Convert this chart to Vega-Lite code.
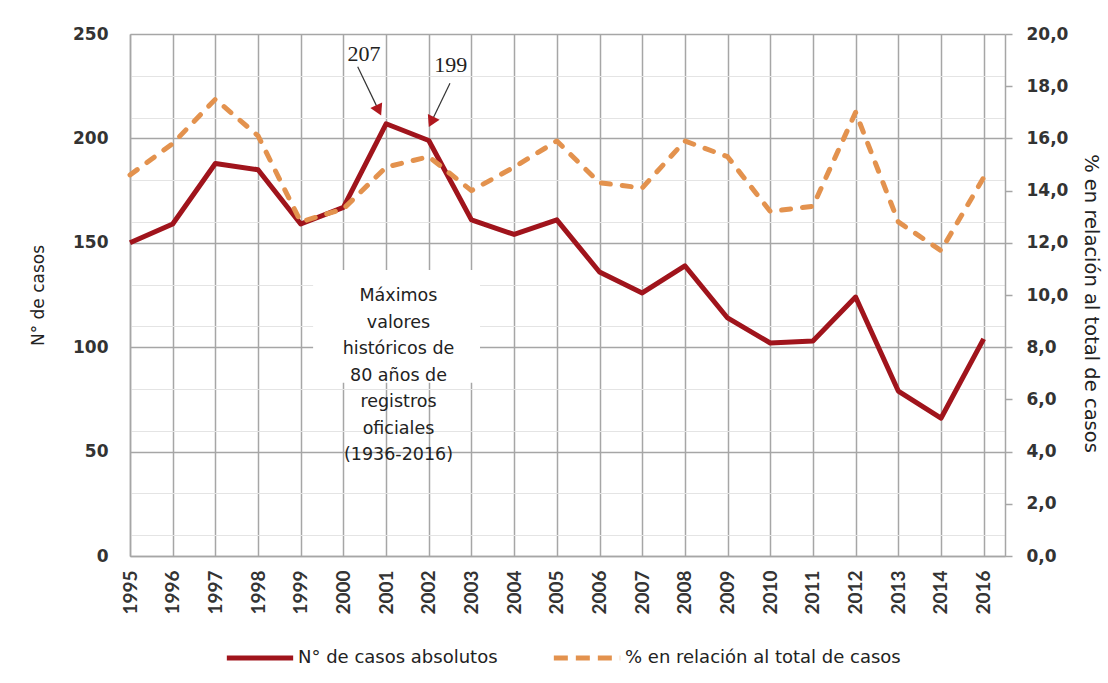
{
  "$schema": "https://vega.github.io/schema/vega-lite/v6.json",
  "width": 875,
  "height": 522,
  "autosize": {"type": "none"},
  "padding": {"left": 130, "top": 34, "right": 103, "bottom": 127},
  "background": "white",
  "config": {
    "view": {"stroke": null},
    "axis": {"labelColor": "#333333", "titleColor": "#222222"}
  },
  "datasets": {
    "serie": [
      {"año": "1995", "casos": 150, "pct": 14.6},
      {"año": "1996", "casos": 159, "pct": 15.8},
      {"año": "1997", "casos": 188, "pct": 17.5},
      {"año": "1998", "casos": 185, "pct": 16.1},
      {"año": "1999", "casos": 159, "pct": 12.8},
      {"año": "2000", "casos": 167, "pct": 13.3},
      {"año": "2001", "casos": 207, "pct": 14.9},
      {"año": "2002", "casos": 199, "pct": 15.3},
      {"año": "2003", "casos": 161, "pct": 14.0},
      {"año": "2004", "casos": 154, "pct": 14.9},
      {"año": "2005", "casos": 161, "pct": 15.9},
      {"año": "2006", "casos": 136, "pct": 14.3},
      {"año": "2007", "casos": 126, "pct": 14.1},
      {"año": "2008", "casos": 139, "pct": 15.9},
      {"año": "2009", "casos": 114, "pct": 15.3},
      {"año": "2010", "casos": 102, "pct": 13.2},
      {"año": "2011", "casos": 103, "pct": 13.4},
      {"año": "2012", "casos": 124, "pct": 17.0},
      {"año": "2013", "casos": 79, "pct": 12.8},
      {"año": "2014", "casos": 66, "pct": 11.7},
      {"año": "2016", "casos": 104, "pct": 14.5}
    ],
    "cuadro": [
      {"texto": "Máximos\nvalores\nhistóricos de\n80 años de\nregistros\noficiales\n(1936-2016)"}
    ]
  },
  "layer": [
    {
      "data": {"name": "cuadro"},
      "layer": [
        {
          "mark": {"type": "rect", "fill": "white"},
          "encoding": {
            "x": {"datum": 5.29, "type": "quantitative"},
            "x2": {"datum": 9.2},
            "y": {
              "datum": 137,
              "type": "quantitative",
              "scale": {"domain": [0, 250], "nice": false},
              "axis": {
                "orient": "left",
                "title": null,
                "values": [10,20,30,40,60,70,80,90,110,120,130,140,160,170,180,190,210,220,230,240],
                "grid": true,
                "gridColor": "#E4E4E4",
                "gridWidth": 1,
                "labels": false,
                "ticks": false,
                "domain": false
              }
            },
            "y2": {"datum": 83}
          }
        },
        {
          "mark": {"type": "text", "font": "DejaVu Sans", "fontSize": 17.5, "color": "#222222", "align": "center", "baseline": "middle", "lineBreak": "\n", "lineHeight": 26.5},
          "encoding": {
            "x": {"datum": 7.29, "type": "quantitative"},
            "y": {"datum": 124.5, "type": "quantitative"},
            "text": {"field": "texto"}
          }
        }
      ]
    },
    {
      "data": {"name": "serie"},
      "transform": [{"window": [{"op": "row_number", "as": "idx"}]}],
      "layer": [
        {
          "mark": {"type": "line", "strokeWidth": 5, "strokeJoin": "round", "strokeCap": "butt"},
          "encoding": {
            "x": {
              "field": "idx",
              "type": "quantitative",
              "scale": {"domain": [1, 21.5], "nice": false, "zero": false},
              "axis": {
                "title": null,
                "values": [1,1.5,2,2.5,3,3.5,4,4.5,5,5.5,6,6.5,7,7.5,8,8.5,9,9.5,10,10.5,11,11.5,12,12.5,13,13.5,14,14.5,15,15.5,16,16.5,17,17.5,18,18.5,19,19.5,20,20.5,21,21.5],
                "grid": true,
                "gridColor": {"condition": {"test": "datum.value % 1 === 0", "value": "#A6A6A6"}, "value": "#E4E4E4"},
                "gridWidth": {"condition": {"test": "datum.value % 1 === 0", "value": 1.5}, "value": 1},
                "ticks": false,
                "domain": true,
                "domainColor": "#A6A6A6",
                "domainWidth": 1.5,
                "labelExpr": "datum.value % 1 === 0 ? ['1995','1996','1997','1998','1999','2000','2001','2002','2003','2004','2005','2006','2007','2008','2009','2010','2011','2012','2013','2014','2016'][datum.value - 1] : ''",
                "labelAngle": -90,
                "labelAlign": "right",
                "labelBaseline": "middle",
                "labelPadding": 14,
                "labelFont": "Lato",
                "labelFontWeight": "bold",
                "labelFontSize": 19,
                "labelOverlap": false,
                "labelFlush": false,
                "labelBound": false
              }
            },
            "y": {
              "field": "casos",
              "type": "quantitative",
              "scale": {"domain": [0, 250], "nice": false},
              "axis": {
                "orient": "left",
                "title": "N° de casos",
                "values": [0, 50, 100, 150, 200, 250],
                "grid": true,
                "gridColor": "#A6A6A6",
                "gridWidth": 1.5,
                "ticks": false,
                "domain": true,
                "domainColor": "#A6A6A6",
                "domainWidth": 1.5,
                "labelOverlap": false,
                "labelFont": "DejaVu Sans",
                "labelFontWeight": "bold",
                "labelFontSize": 17,
                "labelPadding": 22,
                "titleFont": "DejaVu Sans",
                "titleFontSize": 17,
                "titleFontWeight": "normal",
                "titleAngle": -90,
                "titleAlign": "center",
                "titleBaseline": "middle",
                "titleX": -92,
                "titleY": 261
              }
            },
            "color": {
              "datum": "N° de casos absolutos",
              "type": "nominal",
              "scale": {"domain": ["N° de casos absolutos", "% en relación al total de casos"], "range": ["#A0141C", "#E3924E"]},
              "legend": {
                "title": null,
                "orient": "none",
                "legendX": 94,
                "legendY": 588,
                "direction": "horizontal",
                "symbolType": "stroke",
                "symbolSize": 4400,
                "symbolStrokeWidth": 5,
                "labelFont": "DejaVu Sans",
                "labelFontSize": 18,
                "labelColor": "#222222",
                "labelOffset": 2,
                "labelLimit": 400,
                "columnPadding": 45,
                "encode": {
                  "symbols": {
                    "update": {
                      "strokeDash": {"signal": "datum.value === '% en relación al total de casos' ? [14, 8] : [1, 0]"}
                    }
                  }
                }
              }
            }
          }
        },
        {
          "transform": [{"filter": "datum['año'] === '2001'"}],
          "mark": {"type": "rule", "color": "#333333", "strokeWidth": 1.2, "xOffset": -28.4, "yOffset": -57.1, "x2Offset": -7.4, "y2Offset": -13.4},
          "encoding": {"x": {"field": "idx", "type": "quantitative"}, "y": {"field": "casos", "type": "quantitative"}, "x2": {"field": "idx"}, "y2": {"field": "casos"}}
        },
        {
          "transform": [{"filter": "datum['año'] === '2002'"}],
          "mark": {"type": "rule", "color": "#333333", "strokeWidth": 1.2, "xOffset": 21.2, "yOffset": -57.2, "x2Offset": 2.5, "y2Offset": -18.5},
          "encoding": {"x": {"field": "idx", "type": "quantitative"}, "y": {"field": "casos", "type": "quantitative"}, "x2": {"field": "idx"}, "y2": {"field": "casos"}}
        },
        {
          "transform": [{"filter": "datum['año'] === '2001'"}],
          "mark": {"type": "point", "shape": "triangle-down", "filled": true, "color": "#B0181E", "opacity": 1, "size": 170, "angle": -25.6, "xOffset": -7.4, "yOffset": -13.4},
          "encoding": {"x": {"field": "idx", "type": "quantitative"}, "y": {"field": "casos", "type": "quantitative"}}
        },
        {
          "transform": [{"filter": "datum['año'] === '2002'"}],
          "mark": {"type": "point", "shape": "triangle-down", "filled": true, "color": "#B0181E", "opacity": 1, "size": 170, "angle": 25.7, "xOffset": 2.5, "yOffset": -18.5},
          "encoding": {"x": {"field": "idx", "type": "quantitative"}, "y": {"field": "casos", "type": "quantitative"}}
        },
        {
          "transform": [{"filter": "datum['año'] === '2001'"}],
          "mark": {"type": "text", "font": "Liberation Serif", "fontSize": 22, "color": "#222222", "align": "center", "baseline": "middle", "dx": -22, "dy": -70},
          "encoding": {"x": {"field": "idx", "type": "quantitative"}, "y": {"field": "casos", "type": "quantitative"}, "text": {"field": "casos"}}
        },
        {
          "transform": [{"filter": "datum['año'] === '2002'"}],
          "mark": {"type": "text", "font": "Liberation Serif", "fontSize": 22, "color": "#222222", "align": "center", "baseline": "middle", "dx": 22, "dy": -75},
          "encoding": {"x": {"field": "idx", "type": "quantitative"}, "y": {"field": "casos", "type": "quantitative"}, "text": {"field": "casos"}}
        }
      ]
    },
    {
      "data": {"name": "serie"},
      "transform": [{"window": [{"op": "row_number", "as": "idx"}]}],
      "mark": {"type": "line", "strokeWidth": 5, "strokeDash": [9, 12], "strokeCap": "round", "strokeJoin": "round"},
      "encoding": {
        "x": {"field": "idx", "type": "quantitative"},
        "y": {
          "field": "pct",
          "type": "quantitative",
          "scale": {"domain": [0, 20], "nice": false},
          "axis": {
            "orient": "right",
            "title": "% en relación al total de casos",
            "values": [0,2,4,6,8,10,12,14,16,18,20],
            "grid": false,
            "ticks": true,
            "tickSize": 7,
            "tickColor": "#A6A6A6",
            "tickWidth": 1.5,
            "domain": true,
            "domainColor": "#A6A6A6",
            "domainWidth": 1.5,
            "labelExpr": "replace(format(datum.value, '.1f'), '.', ',')",
            "labelFont": "DejaVu Sans",
            "labelFontWeight": "bold",
            "labelFontSize": 17,
            "labelPadding": 14,
            "titleFont": "DejaVu Sans",
            "titleFontSize": 19.5,
            "titleFontWeight": "normal",
            "titleAngle": 90,
            "titleAlign": "center",
            "titleBaseline": "middle",
            "titleX": 85,
            "titleY": 269
          }
        },
        "color": {"datum": "% en relación al total de casos", "type": "nominal"}
      }
    }
  ],
  "resolve": {"scale": {"y": "independent"}}
}
